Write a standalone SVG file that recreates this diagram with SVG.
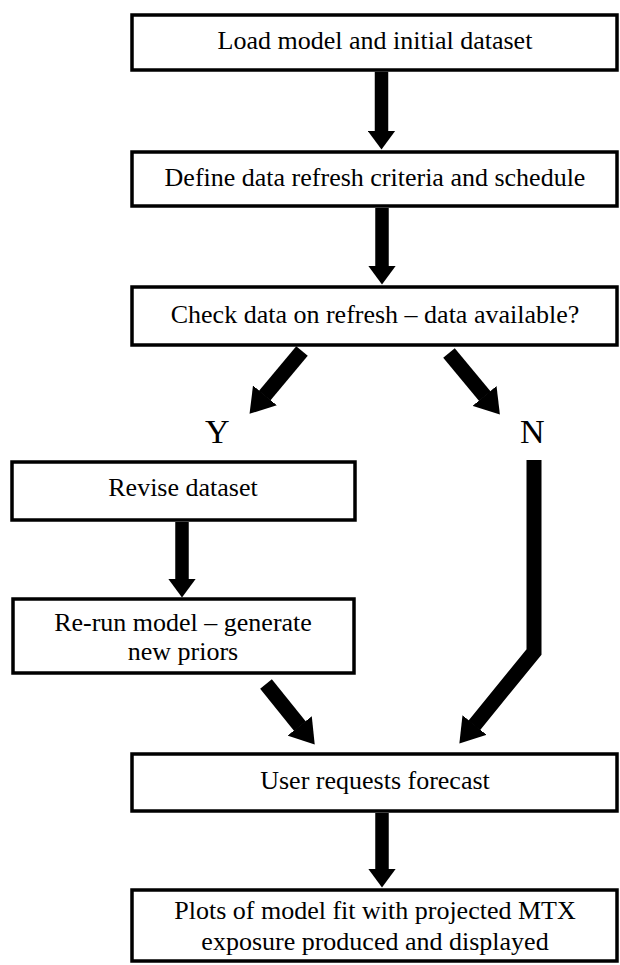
<svg xmlns="http://www.w3.org/2000/svg" width="620" height="965" viewBox="0 0 620 965">
  <style>
    .box { fill: #ffffff; stroke: #000000; stroke-width: 3.5; }
    .lbl { font-family: "Liberation Serif", "Times New Roman", serif; font-size: 26px; fill: #000000; text-anchor: middle; }
    .yn { font-family: "Liberation Serif", "Times New Roman", serif; font-size: 34px; fill: #000000; }
    .v { fill: none; stroke: #000000; stroke-width: 13.5; stroke-linecap: butt; marker-end: url(#hv); }
    .d { fill: none; stroke: #000000; stroke-width: 15; stroke-linecap: butt; stroke-linejoin: miter; marker-end: url(#hd); }
  </style>
  <defs>
    <marker id="hv" viewBox="0 0 19 28" refX="0.5" refY="14" markerWidth="19" markerHeight="28" orient="auto" markerUnits="userSpaceOnUse">
      <path d="M0,0 L19,14 L0,28 z" fill="#000000"/>
    </marker>
    <marker id="hd" viewBox="0 0 24 31" refX="0.5" refY="15.5" markerWidth="24" markerHeight="31" orient="auto" markerUnits="userSpaceOnUse">
      <path d="M0,0 L24,15.5 L0,31 z" fill="#000000"/>
    </marker>
  </defs>
  <rect width="620" height="965" fill="#ffffff"/>

  <g id="connectors">
    <path class="v" d="M381.5,71.75 V131"/>
    <path class="v" d="M382,208 V266"/>
    <path class="d" d="M302,351 L264.6,395.8"/>
    <path class="d" d="M449,353 L484.9,396.3"/>
    <path class="v" d="M182,522 V579"/>
    <path class="d" d="M534,460 V652 L474.2,725.4"/>
    <path class="d" d="M266,684 L300,726.3"/>
    <path class="v" d="M382,813 V869"/>
  </g>

  <g id="branch-labels">
    <text class="yn" x="205" y="443">Y</text>
    <text class="yn" x="520" y="443">N</text>
  </g>

  <g id="load-model">
    <rect class="box" x="132" y="15" width="485" height="55"/>
    <text class="lbl" x="375" y="49">Load model and initial dataset</text>
  </g>
  <g id="define-refresh">
    <rect class="box" x="132" y="152" width="485" height="54"/>
    <text class="lbl" x="375" y="186">Define data refresh criteria and schedule</text>
  </g>
  <g id="check-data">
    <rect class="box" x="132" y="287" width="485" height="58"/>
    <text class="lbl" x="375" y="323">Check data on refresh – data available?</text>
  </g>
  <g id="revise-dataset">
    <rect class="box" x="12" y="462" width="343" height="58"/>
    <text class="lbl" x="183" y="496">Revise dataset</text>
  </g>
  <g id="rerun-model">
    <rect class="box" x="13" y="599" width="341" height="74"/>
    <text class="lbl" x="183" y="631">Re-run model – generate</text>
    <text class="lbl" x="183" y="660">new priors</text>
  </g>
  <g id="user-requests">
    <rect class="box" x="132" y="754" width="485" height="57"/>
    <text class="lbl" x="375" y="789">User requests forecast</text>
  </g>
  <g id="plots">
    <rect class="box" x="132" y="890" width="485" height="71"/>
    <text class="lbl" x="375" y="919">Plots of model fit with projected MTX</text>
    <text class="lbl" x="375" y="950">exposure produced and displayed</text>
  </g>
</svg>
